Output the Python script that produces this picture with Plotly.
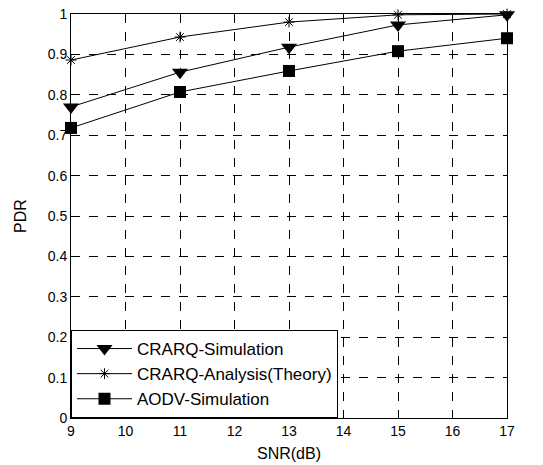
import plotly.graph_objects as go

snr = [9, 11, 13, 15, 17]
crarq_sim = [0.770, 0.856, 0.918, 0.973, 0.998]
crarq_theory = [0.886, 0.943, 0.980, 0.998, 1.000]
aodv_sim = [0.718, 0.807, 0.859, 0.908, 0.940]

x_ticks = list(range(9, 18))
y_ticks = [0, 0.1, 0.2, 0.3, 0.4, 0.5, 0.6, 0.7, 0.8, 0.9, 1]
y_labels = ["0", "0.1", "0.2", "0.3", "0.4", "0.5", "0.6", "0.7", "0.8", "0.9", "1"]

FONT = "Arial, Liberation Sans"

fig = go.Figure()
fig.add_trace(go.Scatter(x=snr, y=crarq_sim, mode="lines+markers", name="CRARQ-Simulation",
                         line=dict(color="black", width=1), cliponaxis=False,
                         marker=dict(symbol="triangle-down", size=14, color="black")))
fig.add_trace(go.Scatter(x=snr, y=crarq_theory, mode="lines+markers", name="CRARQ-Analysis(Theory)",
                         line=dict(color="black", width=1), cliponaxis=False,
                         marker=dict(symbol="asterisk-open", size=9, color="black",
                                     line=dict(color="black", width=1))))
fig.add_trace(go.Scatter(x=snr, y=aodv_sim, mode="lines+markers", name="AODV-Simulation",
                         line=dict(color="black", width=1), cliponaxis=False,
                         marker=dict(symbol="square", size=12, color="black")))

axis_common = dict(showline=True, linecolor="black", linewidth=1, mirror=True,
                   showgrid=True, gridcolor="black", griddash="dash", gridwidth=1,
                   zeroline=False, ticks="inside", ticklen=4, tickcolor="black",
                   automargin=False, ticklabeloverflow="allow",
                   tickfont=dict(family=FONT, size=14, color="black"))

fig.update_xaxes(range=[9, 17], tickvals=x_ticks,
                 title=dict(text="SNR(dB)", standoff=10,
                            font=dict(family=FONT, size=16, color="black")), **axis_common)
fig.update_yaxes(range=[0, 1], tickvals=y_ticks, ticktext=y_labels,
                 title=dict(text="PDR", standoff=17,
                            font=dict(family=FONT, size=16, color="black")),
                 **axis_common)

fig.update_layout(
    width=543, height=465,
    margin=dict(l=71, r=36, t=14, b=47),
    plot_bgcolor="white", paper_bgcolor="white",
    legend=dict(x=0, y=0, xanchor="left", yanchor="bottom",
                bordercolor="black", borderwidth=1, bgcolor="white",
                itemwidth=55, tracegroupgap=0,
                font=dict(family=FONT, size=17, color="black")),
)

fig.write_html("out.html", config={"displayModeBar": False},
               post_script="document.body.style.margin='0';")
